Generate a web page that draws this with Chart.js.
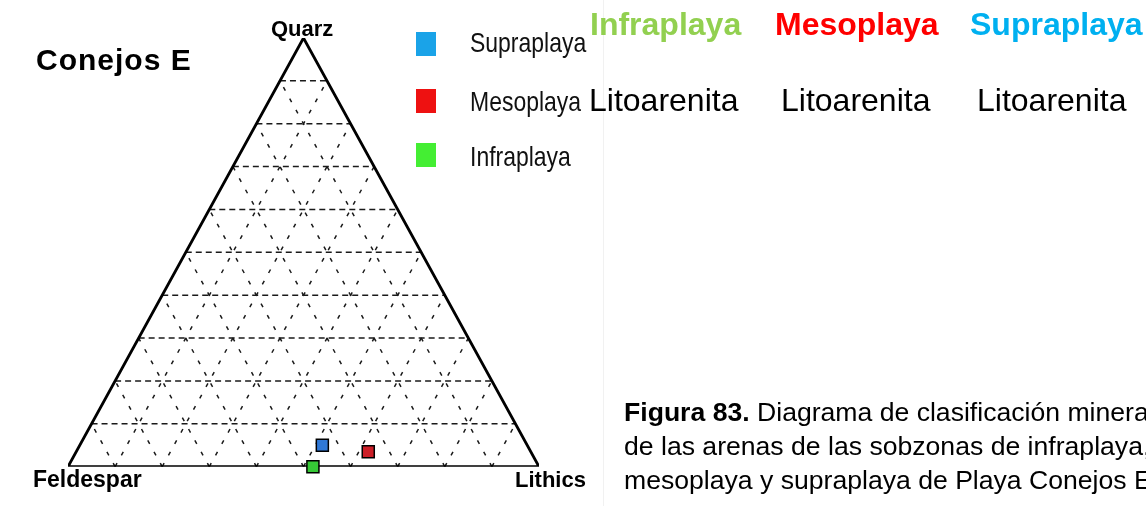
<!DOCTYPE html>
<html>
<head>
<meta charset="utf-8">
<script src="https://cdn.jsdelivr.net/npm/chart.js@4.4.0/dist/chart.umd.min.js"></script>
<style>
  html, body { margin: 0; padding: 0; background: #fff; overflow: hidden; }
  #wrap { position: relative; width: 1146px; height: 506px; overflow: hidden; font-family: "Liberation Sans", Arial, sans-serif; }
  #wrap canvas { position: absolute; left: 0; top: 0; }
  .t { position: absolute; white-space: nowrap; line-height: 1; color: #000; }
  .b { font-weight: bold; }
  .narrow { color: #111; transform: scaleX(0.82); transform-origin: 0 0; }
  .sep { position: absolute; left: 603px; top: 0; width: 1px; height: 506px; background: #f1f1f1; }
  .cap { position: absolute; left: 624px; top: 395px; font-size: 26.6px; line-height: 34px; white-space: nowrap; }
  .sq { position: absolute; width: 20px; height: 24px; }
</style>
</head>
<body>
<div id="wrap">
  <canvas id="ternary" width="1146" height="506"></canvas>
  <div class="sep"></div>

  <div class="t b" style="left:36px; top:45px; font-size:30px; letter-spacing:1px;">Conejos E</div>
  <div class="t b" style="left:271px; top:18px; font-size:22px;">Quarz</div>
  <div class="t b" style="left:33px; top:468px; font-size:23px;">Feldespar</div>
  <div class="t b" style="left:515px; top:469px; font-size:22px;">Lithics</div>

  <div class="sq" style="left:416px; top:32px; background:#1aa3e8;"></div>
  <div class="sq" style="left:416px; top:89px; background:#ee1111;"></div>
  <div class="sq" style="left:416px; top:143px; background:#44ee33;"></div>
  <div class="t narrow" style="left:470px; top:29px; font-size:28px;">Supraplaya</div>
  <div class="t narrow" style="left:470px; top:88px; font-size:28px;">Mesoplaya</div>
  <div class="t narrow" style="left:470px; top:143px; font-size:28px;">Infraplaya</div>

  <div class="t b" style="left:590px; top:8px; font-size:32px; color:#92d050;">Infraplaya</div>
  <div class="t b" style="left:775px; top:8px; font-size:32px; color:#ff0000;">Mesoplaya</div>
  <div class="t b" style="left:970px; top:8px; font-size:32px; color:#00b0f0;">Supraplaya</div>
  <div class="t" style="left:589px; top:84px; font-size:32px;">Litoarenita</div>
  <div class="t" style="left:781px; top:84px; font-size:32px;">Litoarenita</div>
  <div class="t" style="left:977px; top:84px; font-size:32px;">Litoarenita</div>

  <div class="cap">
    <div><b>Figura 83.</b> Diagrama de clasificación mineralógica</div>
    <div>de las arenas de las sobzonas de infraplaya,</div>
    <div>mesoplaya y supraplaya de Playa Conejos E.</div>
  </div>
</div>

<script>
// muestras (porcentajes Q-F-L)
const samples = ['Supraplaya', 'Mesoplaya', 'Infraplaya'];
const quartz = [5, 3.5, 0];
const feldspar = [43.5, 34.5, 48];
const lithics = [51.5, 62, 52];
const markerColors = ['#2f78d6', '#cc1f28', '#36c936'];

// lineas de la grilla cada 10%
const gridSteps = [10, 20, 30, 40, 50, 60, 70, 80, 90];

// x = L + Q/2, y = Q
function toXY(q, f, l) {
    const s = q + f + l;
    return { x: (l + q / 2) / s * 100, y: q / s * 100 };
}

const datasets = [];

gridSteps.forEach(function (k) {
    // Q constante
    datasets.push({
        data: [{ x: k / 2, y: k }, { x: 100 - k / 2, y: k }],
        showLine: true, pointRadius: 0, borderColor: '#1a1a1a', borderWidth: 1.5,
        borderDash: [6, 4], order: 3
    });
    // L constante
    datasets.push({
        data: [{ x: k, y: 0 }, { x: k + (100 - k) / 2, y: 100 - k }],
        showLine: true, pointRadius: 0, borderColor: '#1a1a1a', borderWidth: 1.5,
        borderDash: [4, 9], order: 3
    });
    // F constante
    datasets.push({
        data: [{ x: 100 - k, y: 0 }, { x: (100 - k) / 2, y: 100 - k }],
        showLine: true, pointRadius: 0, borderColor: '#1a1a1a', borderWidth: 1.5,
        borderDash: [4, 9], order: 3
    });
});

// contorno
datasets.push({
    data: [{ x: 0, y: 0 }, { x: 50, y: 100 }, { x: 100, y: 0 }, { x: 0, y: 0 }],
    showLine: true, pointRadius: 0, borderColor: '#000', borderWidth: 2.8, order: 2
});

samples.forEach(function (name, i) {
    datasets.push({
        label: name,
        data: [toXY(quartz[i], feldspar[i], lithics[i])],
        pointStyle: 'rect',
        pointRadius: 8.5,
        backgroundColor: markerColors[i],
        borderColor: '#000',
        borderWidth: 1.5,
        clip: false,
        order: 1
    });
});

new Chart(document.getElementById('ternary'), {
    type: 'scatter',
    data: { datasets: datasets },
    options: {
        responsive: false,
        animation: false,
        devicePixelRatio: 1,
        layout: { padding: { left: 68, right: 607, top: 38, bottom: 39.3 } },
        plugins: { legend: { display: false }, tooltip: { enabled: false } },
        scales: {
            x: { type: 'linear', min: 0, max: 100, display: false },
            y: { type: 'linear', min: 0, max: 100, display: false }
        }
    }
});
</script>
</body>
</html>
